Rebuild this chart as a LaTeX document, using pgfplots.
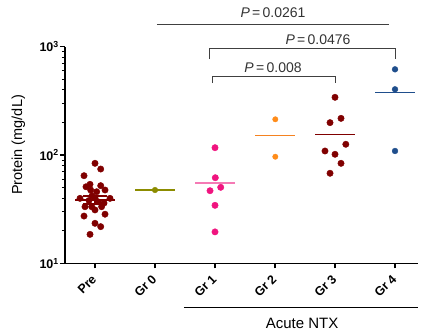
\documentclass[border=0pt]{standalone}
\usepackage{fontspec}
\setmainfont{Liberation Sans}
\usepackage{pgfplots}
\pgfplotsset{compat=1.18}
\definecolor{cdred}{HTML}{800000}
\definecolor{colive}{HTML}{8C8C00}
\definecolor{cpink}{HTML}{F0147F}
\definecolor{cpinkl}{HTML}{F57AB5}
\definecolor{corange}{HTML}{FF8C1A}
\definecolor{corangel}{HTML}{F58220}
\definecolor{cblue}{HTML}{1F4E8C}
\begin{document}
\begin{tikzpicture}
\path[use as bounding box] (-65pt,-68.7pt) rectangle (356pt,263.3pt);
\begin{axis}[
  scale only axis, width=353pt, height=216.6pt,
  ymode=log, ymin=10, ymax=1000,
  xmin=-0.5, xmax=5.383,
  axis x line*=bottom, axis y line*=left,
  axis line style={-, line width=1.5pt},
  clip=false,
  xtick={0,1,2,3,4,5},
  xticklabels={Pre,Gr 0,Gr 1,Gr 2,Gr 3,Gr 4},
  xticklabel style={yshift=-8pt, xshift=0pt, rotate=45, anchor=east, font=\fontsize{12.5}{14}\selectfont\bfseries, inner sep=1pt},
  ytick={10,100,1000},
  yticklabels={{10\textsuperscript{1}},{10\textsuperscript{2}},{10\textsuperscript{3}}},
  yticklabel style={font=\fontsize{12.5}{14}\selectfont\bfseries, inner sep=1pt},
  tick align=outside,
  major tick length=5pt, minor tick length=3pt,
  tick style={line width=1.2pt, black},
  minor tick style={line width=0.8pt},
  xtick style={line width=1.2pt},
  every axis plot/.append style={only marks, mark=*, mark size=3.2pt},
]
% Pre
\addplot[cdred, mark options={draw=cdred, fill=cdred}] coordinates {
(0.0,83.8) (0.095,74.2) (-0.183,64.4) (-0.15,50.9) (-0.083,53.6) (-0.072,47.5)
(0.095,52.1) (0.167,47.5) (0.028,45.8) (-0.25,39.8) (0.25,39.8) (-0.167,33.3)
(-0.055,33.3) (0.11,33.3) (0.0,31.1) (-0.183,27.3) (0.167,28.4) (0.0,23.4)
(0.095,21.8) (-0.083,18.5) (-0.1,38) (0.05,37) (0.0,40) (0.15,36) (-0.05,42)
};
% Gr 0
\addplot[colive, mark options={draw=colive, fill=colive}, mark size=2.8pt] coordinates {(1,47.5)};
% Gr 1
\addplot[cpink, mark options={draw=cpink, fill=cpink}] coordinates {
(2,116.8) (2.005,61.7) (1.917,46.8) (2.095,50.3) (2,34.3) (2,19.5)};
% Gr 2
\addplot[corange, mark options={draw=corange, fill=corange}, mark size=2.7pt] coordinates {
(3.005,213.6) (3.005,96.4)};
% Gr 3
\addplot[cdred, mark options={draw=cdred, fill=cdred}] coordinates {
(4,341) (4.1,218) (3.917,199) (4.18,125.6) (3.833,108.9) (4,101.5) (4.1,83.8) (3.917,67.8)};
% Gr 4
\addplot[cblue, mark options={draw=cblue, fill=cblue}, mark size=2.9pt] coordinates {
(5,618) (5,404) (5,108.9)};
% mean lines
\addplot[draw=cdred, no marks, sharp plot, line width=1.5pt] coordinates {(-0.33,38.5) (0.33,38.5)};
\addplot[draw=cdred, no marks, sharp plot, line width=1.5pt] coordinates {(-0.2,35.3) (0.2,35.3)};
\addplot[draw=cdred, no marks, sharp plot, line width=1.5pt] coordinates {(-0.2,42) (0.2,42)};
\addplot[draw=cdred, no marks, sharp plot, line width=1.5pt] coordinates {(0,35.3) (0,42)};
\addplot[draw=colive, no marks, sharp plot, line width=1.5pt] coordinates {(0.67,47.5) (1.33,47.5)};
\addplot[draw=cpinkl, no marks, sharp plot, line width=1.5pt] coordinates {(1.67,55) (2.33,55)};
\addplot[draw=corangel, no marks, sharp plot, line width=1.7pt] coordinates {(2.67,151) (3.33,151)};
\addplot[draw=cdred, no marks, sharp plot, line width=1.5pt] coordinates {(3.67,154) (4.33,154)};
\addplot[draw=cblue, no marks, sharp plot, line width=1.5pt] coordinates {(4.67,378) (5.33,378)};
% significance annotations
\draw[black!75, line width=0.8pt] (axis cs:1.033,1610) -- (axis cs:4.9,1610);
\node[font=\fontsize{14}{16}\selectfont, black!80] at (axis cs:2.967,2078) {\textit{P}\,=\,0.0261};
\draw[black!75, line width=0.8pt] (axis cs:1.9,770) -- (axis cs:1.9,966) -- (axis cs:5.01,966) -- (axis cs:5.01,770);
\node[font=\fontsize{14}{16}\selectfont, black!80] at (axis cs:3.717,1153) {\textit{P}\,=\,0.0476};
\draw[black!75, line width=0.8pt] (axis cs:1.95,462) -- (axis cs:1.95,528) -- (axis cs:4.01,528) -- (axis cs:4.01,462);
\node[font=\fontsize{14}{16}\selectfont, black!80] at (axis cs:2.967,640) {\textit{P}\,=\,0.008};
% group line
\draw[line width=1pt] ([yshift=-44.7pt]axis cs:1.483,10) -- ([yshift=-44.7pt]axis cs:5.383,10);
\node[font=\fontsize{15}{17}\selectfont] at ([yshift=-60pt]axis cs:3.45,10) {Acute NTX};
\node[rotate=90, font=\fontsize{14.5}{16}\selectfont] at ([xshift=-46.5pt, yshift=10pt]rel axis cs:0,0.5) {Protein (mg/dL)};
\end{axis}
\end{tikzpicture}
\end{document}
